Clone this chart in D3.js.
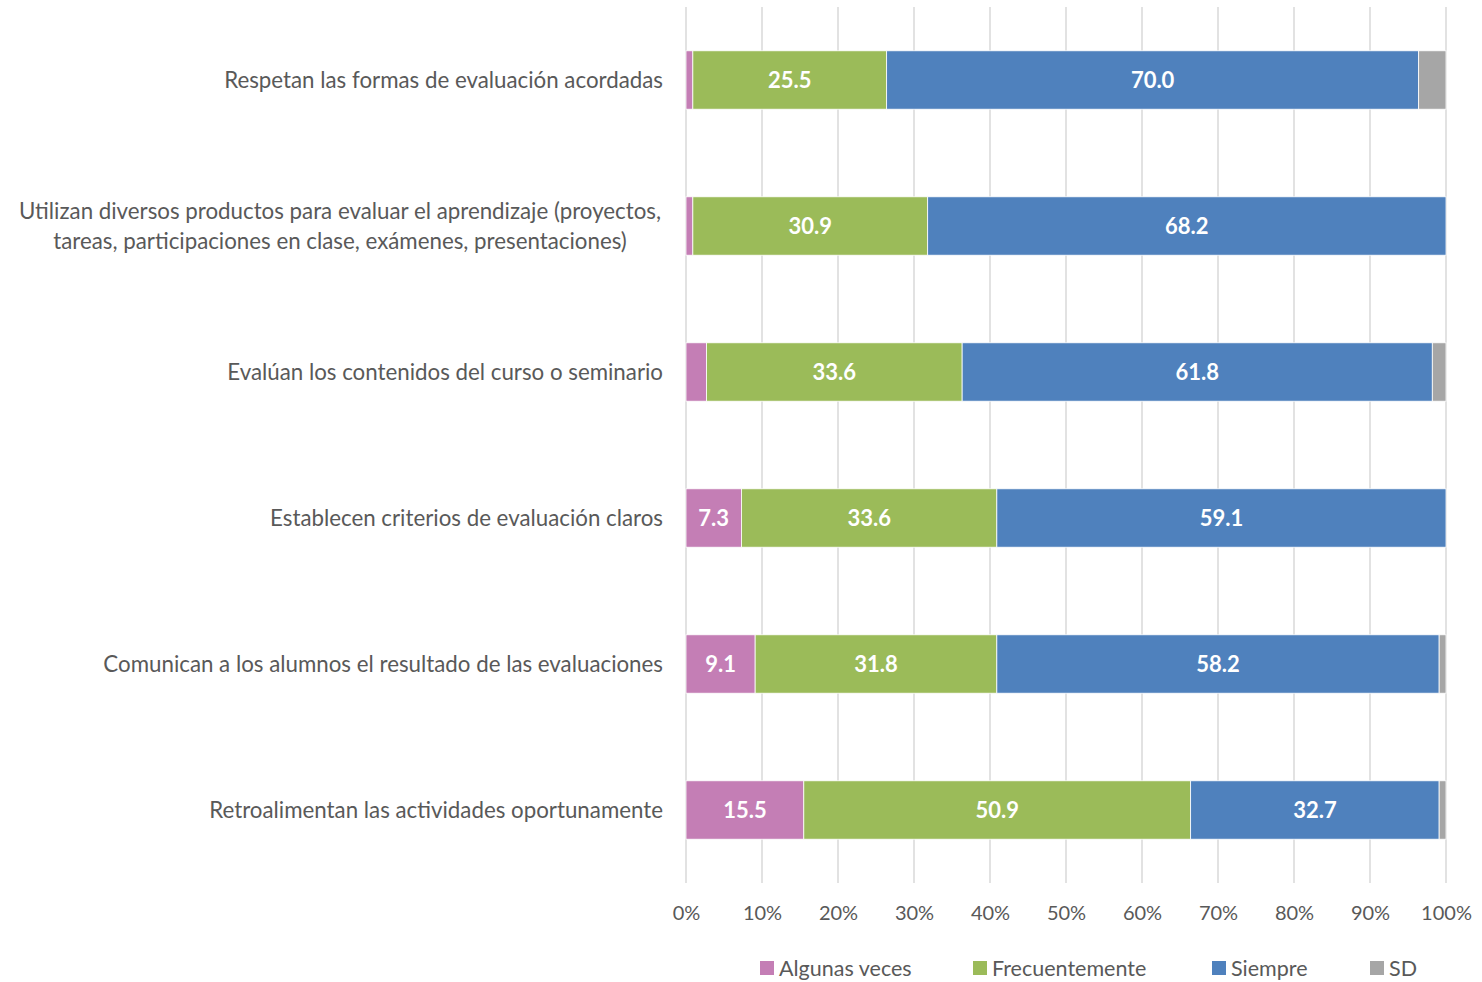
<!DOCTYPE html>
<html><head><meta charset="utf-8">
<script src="https://cdn.jsdelivr.net/npm/d3@7"></script>
<style>body{margin:0;background:#fff;} svg{display:block;}</style>
</head><body>
<svg id="chart" width="1482" height="982"></svg>
<script>
const categories = [
  ["Respetan las formas de evaluación acordadas"],
  ["Utilizan diversos productos para evaluar el aprendizaje (proyectos,", "tareas, participaciones en clase, exámenes, presentaciones)"],
  ["Evalúan los contenidos del curso o seminario"],
  ["Establecen criterios de evaluación claros"],
  ["Comunican a los alumnos el resultado de las evaluaciones"],
  ["Retroalimentan las actividades oportunamente"]
];
const seriesNames = ["Algunas veces", "Frecuentemente", "Siempre", "SD"];
const colors = ["#C47EB5", "#9BBB59", "#4F81BD", "#A6A6A6"];
const algunas = [0.9, 0.9, 2.7, 7.3, 9.1, 15.5];
const frecuentemente = [25.5, 30.9, 33.6, 33.6, 31.8, 50.9];
const siempre = [70.0, 68.2, 61.8, 59.1, 58.2, 32.7];
const sd = [3.6, 0, 1.8, 0, 0.9, 0.9];
const tickValues = [0, 0.1, 0.2, 0.3, 0.4, 0.5, 0.6, 0.7, 0.8, 0.9, 1.0];

const font = "Lato, 'Open Sans', sans-serif";
const textColor = "#595959";
const svg = d3.select("#chart");

const x = d3.scaleLinear().domain([0, 1]).range([686, 1446]);
const y = d3.scaleBand().domain(d3.range(categories.length)).range([7, 883]).paddingInner(0.6).paddingOuter(0.3);

// gridlines
svg.append("g").selectAll("line").data(tickValues).join("line")
  .attr("x1", d => x(d)).attr("x2", d => x(d))
  .attr("y1", 7).attr("y2", 883)
  .attr("stroke", "#D9D9D9").attr("stroke-width", 1.5);

// axis labels
const xAxis = d3.axisBottom(x).tickValues(tickValues).tickFormat(d3.format(".0%")).tickSize(0).tickPadding(0);
const ax = svg.append("g").attr("transform", "translate(0,913)").call(xAxis);
ax.select(".domain").remove();
ax.selectAll("text").attr("font-family", font).attr("font-size", 20).attr("fill", textColor).attr("dy", "0.35em").attr("y", 0);

// data rows
const allSeries = [algunas, frecuentemente, siempre, sd];
const rows = categories.map((c, i) => {
  const vals = allSeries.map(s => s[i]);
  const total = d3.sum(vals);
  let acc = 0;
  return vals.map((v, k) => {
    const seg = {row: i, k, v, x0: acc / total, x1: (acc + v) / total};
    acc += v;
    return seg;
  });
}).flat().filter(d => d.v > 0);

svg.append("g").selectAll("rect").data(rows).join("rect")
  .attr("x", d => x(d.x0)).attr("width", d => x(d.x1) - x(d.x0))
  .attr("y", d => y(d.row)).attr("height", y.bandwidth())
  .attr("fill", d => colors[d.k])
  .attr("stroke", "#fff").attr("stroke-width", 0.8);

svg.append("g").selectAll("text").data(rows.filter(d => d.v >= 5)).join("text")
  .attr("x", d => (x(d.x0) + x(d.x1)) / 2)
  .attr("y", d => y(d.row) + y.bandwidth() / 2)
  .attr("dy", "0.35em").attr("text-anchor", "middle")
  .attr("font-family", font).attr("font-weight", "bold").attr("font-size", 22)
  .attr("fill", "#fff")
  .text(d => d.v.toFixed(1));

// category labels
const cat = svg.append("g").selectAll("text").data(categories).join("text")
  .attr("font-family", font).attr("font-size", 22.3).attr("fill", textColor)
  .attr("transform", (d, i) => `translate(${d.length > 1 ? 340 : 663},${y(i) + y.bandwidth()/2})`)
  .attr("text-anchor", d => d.length > 1 ? "middle" : "end");
cat.selectAll("tspan").data(d => d.map((t, j) => ({t, j, n: d.length}))).join("tspan")
  .attr("x", 0)
  .attr("y", d => (d.j - (d.n - 1) / 2) * 30)
  .attr("dy", "0.35em")
  .text(d => d.t);

// legend
const legendX = [760, 973, 1212, 1370];
const lg = svg.append("g").selectAll("g").data(seriesNames).join("g")
  .attr("transform", (d, i) => `translate(${legendX[i]},968)`);
lg.append("rect").attr("x", 0).attr("y", -7).attr("width", 14).attr("height", 14).attr("fill", (d, i) => colors[i]);
lg.append("text").attr("x", 19).attr("dy", "0.35em")
  .attr("font-family", font).attr("font-size", 21.5).attr("fill", textColor).text(d => d);
</script>
</body></html>
